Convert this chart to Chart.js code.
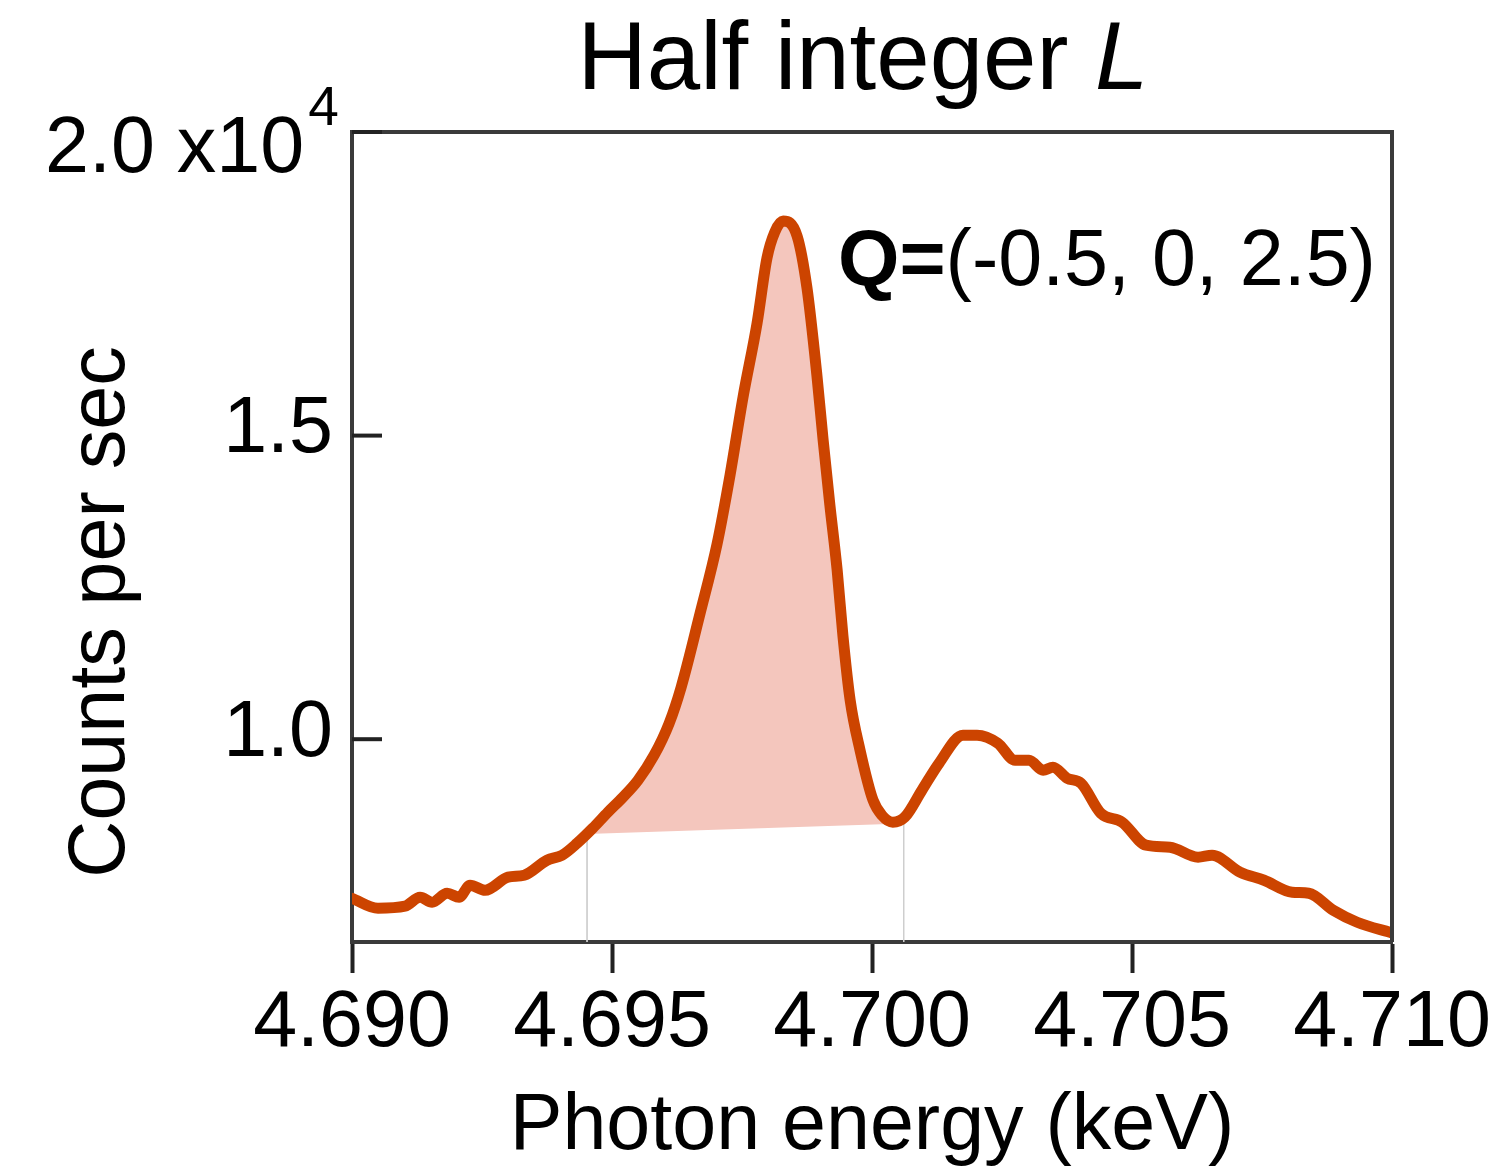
<!DOCTYPE html>
<html>
<head>
<meta charset="utf-8">
<title>Half integer L</title>
<script src="https://cdn.jsdelivr.net/npm/chart.js@4.4.1/dist/chart.umd.min.js"></script>
<style>
  html, body { margin: 0; padding: 0; background: #fff; }
  #wrap { width: 1500px; height: 1173px; }
</style>
</head>
<body>
<div id="wrap"><canvas id="spectrum" width="1500" height="1173"></canvas></div>
<script>
// Spectrum (energy in keV, counts per sec)
const energy = [4.69000, 4.69050, 4.69102, 4.69131, 4.69154, 4.69183, 4.69206, 4.69227, 4.69256, 4.69300,
                4.69331, 4.69375, 4.69404, 4.69433, 4.69463, 4.69492, 4.69521, 4.69550, 4.69581, 4.69610,
                4.69633, 4.69669, 4.69702, 4.69727, 4.69752, 4.69779, 4.69798, 4.69813, 4.69829, 4.69856,
                4.69875, 4.69894, 4.69906, 4.69919, 4.69933, 4.69944, 4.69958, 4.69977, 4.70002, 4.70019,
                4.70040, 4.70063, 4.70096, 4.70129, 4.70175, 4.70202, 4.70242, 4.70275, 4.70302, 4.70329,
                4.70348, 4.70375, 4.70402, 4.70440, 4.70481, 4.70527, 4.70573, 4.70627, 4.70654, 4.70708,
                4.70754, 4.70808, 4.70840, 4.70887, 4.70933, 4.71000];
const counts = [7380, 7216, 7249, 7397, 7315, 7463, 7397, 7595, 7512, 7727,
                7760, 8007, 8089, 8287, 8534, 8797, 9045, 9325, 9736, 10264,
                10857, 12059, 13212, 14349, 15634, 16853, 17924, 18352, 18534, 18286,
                17430, 15997, 14926, 13855, 12784, 11713, 10642, 9819, 8995, 8748,
                8633, 8715, 9160, 9605, 10066, 10066, 9934, 9654, 9654, 9489,
                9539, 9358, 9275, 8781, 8633, 8254, 8221, 8056, 8089, 7809,
                7677, 7479, 7463, 7183, 6985, 6810];

// integration bounds of the shaded peak and the straight background under it
const boundEnergy = [4.69452, 4.70061];
const boundCounts = [8440, 8610];

const xTicks = [4.690, 4.695, 4.700, 4.705, 4.710];
const yTicks = [10000, 15000, 20000];
const xRange = [4.690, 4.710];
const yRange = [6660, 20000];

const titleMain = 'Half integer ';
const titleItalic = 'L';
const xTitle = 'Photon energy (keV)';
const yTitle = 'Counts per sec';
const qBold = 'Q=';
const qRest = '(-0.5, 0, 2.5)';

const FONT = '"Liberation Sans", Arial, Helvetica, sans-serif';
const lineColor = '#CC4400';
const fillColor = '#F4C6BD';

// points of the main curve
const curve = energy.map((e, i) => ({ x: e, y: counts[i] }));

// the part of the curve between the bounds, closed by the bound points
const peak = [{ x: boundEnergy[0], y: boundCounts[0] }]
    .concat(curve.filter(p => p.x > boundEnergy[0] && p.x < boundEnergy[1]))
    .concat([{ x: boundEnergy[1], y: boundCounts[1] }]);

const background = [
    { x: boundEnergy[0], y: boundCounts[0] },
    { x: boundEnergy[1], y: boundCounts[1] }
];

const boundLines = [
    { x: boundEnergy[0], y: boundCounts[0] },
    { x: boundEnergy[0], y: yRange[0] },
    { x: boundEnergy[0], y: null },
    { x: boundEnergy[1], y: boundCounts[1] },
    { x: boundEnergy[1], y: yRange[0] }
];

// frame, inward y ticks, titles and the Q label
const decorations = {
    id: 'decorations',
    afterDraw(chart) {
        const ctx = chart.ctx;
        const area = chart.chartArea;
        const yScale = chart.scales.y;
        ctx.save();

        // top and right sides of the box
        ctx.strokeStyle = '#3a3a3a';
        ctx.lineWidth = 4;
        ctx.beginPath();
        ctx.moveTo(area.left, area.top);
        ctx.lineTo(area.right, area.top);
        ctx.lineTo(area.right, area.bottom);
        ctx.stroke();

        // y ticks point into the plot
        ctx.strokeStyle = '#222';
        ctx.lineWidth = 4;
        yTicks.forEach(v => {
            const py = yScale.getPixelForValue(v);
            ctx.beginPath();
            ctx.moveTo(area.left, py);
            ctx.lineTo(area.left + 30, py);
            ctx.stroke();
        });

        ctx.fillStyle = '#000';
        ctx.textBaseline = 'alphabetic';

        // top tick label with exponent
        const topY = yScale.getPixelForValue(yTicks[2]);
        ctx.font = '79px ' + FONT;
        ctx.textAlign = 'left';
        ctx.fillText('2.0 x10', 45, topY + 40);
        const w10 = ctx.measureText('2.0 x10').width;
        ctx.font = '55px ' + FONT;
        ctx.fillText('4', 45 + w10 + 4, topY - 7);

        // title
        ctx.font = '96px ' + FONT;
        const w1 = ctx.measureText(titleMain).width;
        ctx.font = 'italic 96px ' + FONT;
        const w2 = ctx.measureText(titleItalic).width;
        const tx = 863 - (w1 + w2) / 2;
        ctx.font = '96px ' + FONT;
        ctx.fillText(titleMain, tx, 89);
        ctx.font = 'italic 96px ' + FONT;
        ctx.fillText(titleItalic, tx + w1, 89);

        // y axis title
        ctx.save();
        ctx.translate(124, 612);
        ctx.rotate(-Math.PI / 2);
        ctx.font = '79px ' + FONT;
        ctx.textAlign = 'center';
        ctx.fillText(yTitle, 0, 0);
        ctx.restore();

        // Q label
        ctx.textAlign = 'left';
        ctx.font = 'bold 79px ' + FONT;
        ctx.fillText(qBold, 838, 285);
        const wq = ctx.measureText(qBold).width;
        ctx.font = '79px ' + FONT;
        ctx.fillText(qRest, 838 + wq, 285);

        ctx.restore();
    }
};

const chart = new Chart(document.getElementById('spectrum'), {
    type: 'line',
    data: {
        datasets: [
            {
                label: 'spectrum',
                data: curve,
                borderColor: lineColor,
                borderWidth: 11,
                borderJoinStyle: 'round',
                borderCapStyle: 'round',
                pointRadius: 0,
                cubicInterpolationMode: 'monotone',
                fill: false,
                order: 0
            },
            {
                label: 'peak',
                data: peak,
                borderWidth: 0,
                borderColor: 'rgba(0,0,0,0)',
                backgroundColor: fillColor,
                pointRadius: 0,
                cubicInterpolationMode: 'monotone',
                fill: 2,
                order: 1
            },
            {
                label: 'background',
                data: background,
                borderWidth: 0,
                borderColor: 'rgba(0,0,0,0)',
                pointRadius: 0,
                fill: false,
                order: 2
            },
            {
                label: 'bounds',
                data: boundLines,
                borderWidth: 1,
                borderColor: '#cfcfcf',
                pointRadius: 0,
                spanGaps: false,
                fill: false,
                order: 3
            }
        ]
    },
    options: {
        responsive: false,
        animation: false,
        devicePixelRatio: 1,
        layout: { padding: { top: 132, right: 108, left: 0, bottom: 0 } },
        plugins: {
            legend: { display: false },
            tooltip: { enabled: false },
            title: { display: false }
        },
        scales: {
            x: {
                type: 'linear',
                min: xRange[0],
                max: xRange[1],
                afterBuildTicks: scale => { scale.ticks = xTicks.map(v => ({ value: v })); },
                afterFit: scale => { scale.height = 231; },
                grid: {
                    drawOnChartArea: false,
                    drawTicks: true,
                    tickLength: 31,
                    tickWidth: 4,
                    tickColor: '#222'
                },
                border: { display: true, color: '#3a3a3a', width: 4 },
                ticks: {
                    autoSkip: false,
                    maxRotation: 0,
                    padding: 4,
                    color: '#000',
                    font: { family: FONT, size: 79, lineHeight: 1.2 },
                    callback: v => v.toFixed(3)
                },
                title: {
                    display: true,
                    text: xTitle,
                    color: '#000',
                    font: { family: FONT, size: 79, lineHeight: 1.0 },
                    padding: { top: 0, bottom: 6 }
                }
            },
            y: {
                type: 'linear',
                min: yRange[0],
                max: yRange[1],
                afterBuildTicks: scale => { scale.ticks = yTicks.map(v => ({ value: v })); },
                afterFit: scale => { scale.width = 352; },
                grid: { display: false, drawTicks: false },
                border: { display: true, color: '#3a3a3a', width: 4 },
                ticks: {
                    padding: 19,
                    labelOffset: -5,
                    color: '#000',
                    font: { family: FONT, size: 79, lineHeight: 1.2 },
                    callback: v => (v === yTicks[2] ? '' : (v / 10000).toFixed(1))
                }
            }
        }
    },
    plugins: [decorations]
});
</script>
</body>
</html>
